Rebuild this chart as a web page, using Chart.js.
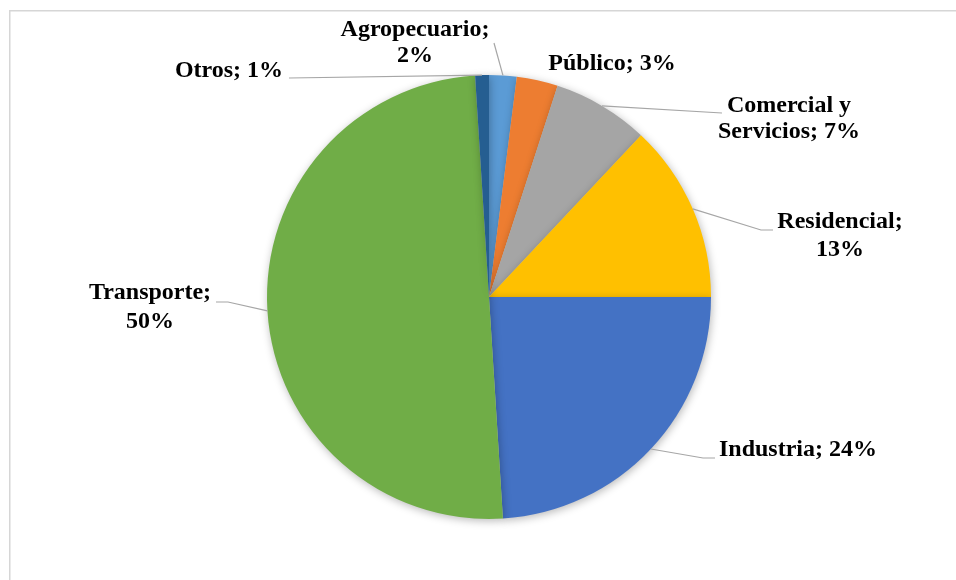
<!DOCTYPE html>
<html>
<head>
<meta charset="utf-8">
<script src="https://cdn.jsdelivr.net/npm/chart.js@4.4.1/dist/chart.umd.min.js"></script>
<style>
  html, body { margin: 0; padding: 0; background: #fff; }
  #wrap { width: 956px; height: 580px; position: relative; }
</style>
</head>
<body>
<div id="wrap"><canvas id="pie" width="956" height="580"></canvas></div>
<script>
// consumo final de energia por sector (%)
const sectores = ["Agropecuario", "Público", "Comercial y Servicios", "Residencial", "Industria", "Transporte", "Otros"];
const porcentajes = [2, 3, 7, 13, 24, 50, 1];
const colores = ["#5B9BD5", "#ED7D31", "#A5A5A5", "#FFC000", "#4472C4", "#70AD47", "#255E91"];

// how each label is split in lines
const etiquetas = [
  ["Agropecuario;", "2%"],
  ["Público; 3%"],
  ["Comercial y", "Servicios; 7%"],
  ["Residencial;", "13%"],
  ["Industria; 24%"],
  ["Transporte;", "50%"],
  ["Otros; 1%"]
];

// label centre (first line) and leader line points (elbow, end) for each slice
const layoutEtiquetas = [
  { x: 415, y: 30, lh: 26, line: [[494, 43]] },
  { x: 612, y: 64, lh: 26, line: null },
  { x: 789, y: 106, lh: 26, line: [[722, 113]] },
  { x: 840, y: 222, lh: 28, line: [[761, 230], [773, 230]] },
  { x: 798, y: 450, lh: 26, line: [[703, 458], [715, 458]] },
  { x: 150, y: 293, lh: 29, line: [[228, 302], [216, 302]] },
  { x: 229, y: 71, lh: 26, line: [[289, 78]] }
];

const marco = {
  id: "marco",
  beforeDraw(chart) {
    const c = chart.ctx;
    c.save();
    c.fillStyle = "#fff";
    c.fillRect(0, 0, chart.width, chart.height);
    c.strokeStyle = "#d6d6d6";
    c.lineWidth = 1.5;
    c.strokeRect(9.75, 10.75, 1000, 1000);
    c.restore();
  }
};

// soft shadow under the pie
const sombra = {
  id: "sombra",
  beforeDatasetsDraw(chart) {
    const c = chart.ctx;
    c.save();
    c.shadowColor = "rgba(0,0,0,0.28)";
    c.shadowBlur = 9;
    c.shadowOffsetX = 1;
    c.shadowOffsetY = 2;
  },
  afterDatasetsDraw(chart) {
    chart.ctx.restore();
  }
};

const rotulos = {
  id: "rotulos",
  afterDatasetsDraw(chart) {
    const c = chart.ctx;
    const arcs = chart.getDatasetMeta(0).data;
    c.save();
    arcs.forEach((arc, i) => {
      const pos = layoutEtiquetas[i];
      if (pos.line) {
        const mid = (arc.startAngle + arc.endAngle) / 2;
        const x0 = arc.x + Math.cos(mid) * arc.outerRadius;
        const y0 = arc.y + Math.sin(mid) * arc.outerRadius;
        c.beginPath();
        c.moveTo(x0, y0);
        pos.line.forEach(p => c.lineTo(p[0], p[1]));
        c.strokeStyle = "#A6A6A6";
        c.lineWidth = 1.2;
        c.stroke();
      }
      c.fillStyle = "#000";
      c.font = "bold 24px 'Liberation Serif', 'Times New Roman', serif";
      c.textAlign = "center";
      c.textBaseline = "middle";
      etiquetas[i].forEach((t, k) => c.fillText(t, pos.x, pos.y + k * pos.lh));
    });
    c.restore();
  }
};

new Chart(document.getElementById("pie"), {
  type: "pie",
  data: {
    labels: sectores,
    datasets: [{
      data: porcentajes,
      backgroundColor: colores,
      borderWidth: 0
    }]
  },
  options: {
    responsive: false,
    animation: false,
    layout: { padding: { left: 267, right: 245, top: 75, bottom: 61 } },
    plugins: {
      legend: { display: false },
      tooltip: { enabled: false }
    }
  },
  plugins: [marco, sombra, rotulos]
});
</script>
</body>
</html>
